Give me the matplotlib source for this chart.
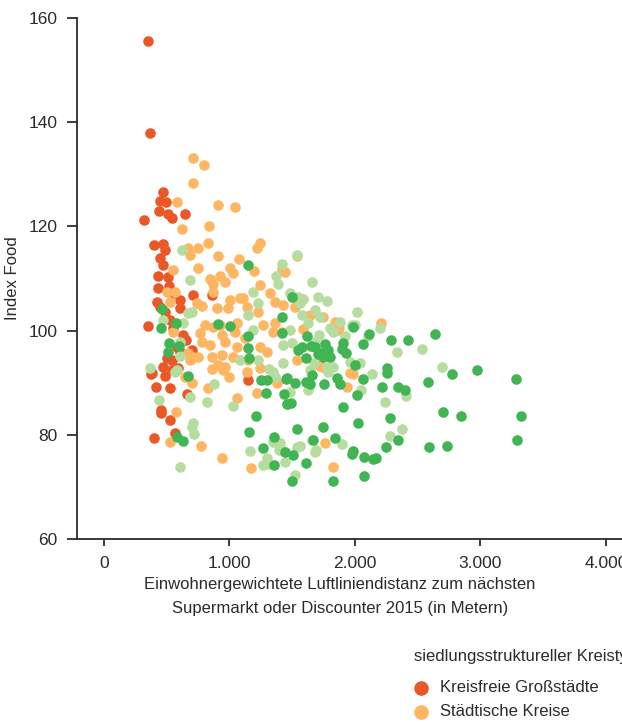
import matplotlib
matplotlib.use("Agg")
import matplotlib.pyplot as plt
from matplotlib.lines import Line2D

plt.rcParams["font.family"] = ["Liberation Sans", "DejaVu Sans"]

# Einwohnergewichtete Luftliniendistanz (m) / Index Food, by Kreistyp
gross_dist = [351, 367, 319, 470, 446, 494, 438, 510, 542, 646, 399, 470, 486, 446, 470, 430,
              510, 518, 550, 430, 709, 422, 446, 486, 606, 606, 351, 526, 550, 630, 654, 582,
              606, 542, 502, 701, 470, 383, 542, 590, 375, 486, 414, 526, 662, 454, 454, 526,
              566, 399, 1148, 861]
gross_index = [155.6, 137.9, 121.2, 126.6, 124.9, 124.7, 123.0, 122.4, 121.6, 122.4, 116.4, 116.6,
               115.5, 113.9, 112.6, 110.5, 110.3, 108.6, 107.2, 108.2, 106.8, 105.5, 104.5, 103.6,
               105.9, 104.3, 100.9, 102.0, 100.5, 99.2, 98.2, 96.8, 95.9, 94.4, 94.7, 96.3, 93.0,
               91.8, 92.4, 92.8, 91.6, 91.3, 89.2, 89.0, 87.8, 84.8, 84.2, 82.8, 80.3, 79.4,
               90.5, 106.8]

staedt_dist = [709, 797, 709, 582, 909, 1044, 622, 837, 669, 685, 749, 829, 909, 1076, 550, 749,
               925, 1004, 1028, 1243, 1219, 1196, 1419, 1538, 845, 869, 964, 502, 566, 526, 741,
               781, 869, 1004, 1084, 988, 901, 1140, 805, 869, 925, 1060, 1044, 940, 765, 781,
               845, 964, 1060, 550, 669, 709, 685, 749, 861, 940, 1028, 909, 964, 861, 996, 646,
               948, 701, 829, 1060, 574, 526, 773, 940, 1172, 1219, 1243, 1323, 1108, 1363, 1427,
               1522, 1522, 1227, 1642, 1267, 1363, 1347, 1586, 1419, 1865, 1865, 1124, 1243, 1299,
               1538, 1243, 1140, 1737, 1443, 1379, 1961, 1937, 1761, 1825, 2208, 1985, 1745, 1841,
               1873, 1634, 1793, 1722, 1148]
staedt_index = [133.1, 131.8, 128.3, 124.7, 124.1, 123.7, 119.5, 120.1, 115.8, 114.5, 115.8, 116.8,
                114.3, 113.7, 111.6, 112.0, 110.5, 112.0, 111.0, 116.8, 115.8, 111.4, 111.8, 114.3,
                109.9, 108.9, 109.3, 107.4, 107.4, 105.5, 105.3, 104.7, 107.4, 105.9, 106.2, 104.3,
                104.3, 104.5, 101.1, 100.7, 101.1, 101.4, 99.7, 99.1, 99.5, 97.8, 97.2, 97.8, 96.8,
                99.7, 95.7, 94.9, 94.4, 94.9, 94.9, 95.3, 94.9, 93.4, 93.0, 92.6, 91.1, 91.1, 92.4,
                89.9, 89.0, 87.0, 84.4, 78.6, 77.8, 75.5, 73.6, 88.0, 108.7, 107.2, 106.2, 105.5,
                104.9, 106.2, 104.5, 103.6, 103.0, 101.1, 101.4, 99.7, 100.3, 99.7, 101.4, 100.1,
                98.6, 96.8, 95.9, 94.4, 92.8, 92.0, 93.0, 111.2, 89.9, 91.8, 89.2, 78.4, 73.8,
                101.4, 91.6, 102.6, 101.6, 100.5, 102.8, 95.1, 93.2, 94.4]

verd_dist = [622, 685, 1188, 1419, 1538, 1371, 1387, 1658, 1482, 1706, 1586, 669, 701, 470, 630,
             606, 606, 367, 582, 1148, 1084, 566, 438, 685, 821, 877, 1028, 709, 701, 717, 606,
             1164, 1267, 1299, 1363, 1395, 1443, 1522, 1658, 1562, 1682, 1188, 1315, 1363, 1427,
             1626, 1227, 1562, 1546, 1682, 1722, 1777, 1578, 1626, 1482, 1801, 1825, 1714, 1682,
             2016, 1881, 1427, 1498, 1227, 1347, 1642, 1777, 1961, 2000, 1482, 1459, 1785, 1347,
             1403, 1690, 1897, 1427, 1538, 1307, 1921, 1977, 2200, 2534, 2335, 1674, 2040, 2136,
             1825, 2048, 2240, 2407, 2694, 2375, 2279, 2104]
verd_index = [115.5, 109.7, 107.4, 112.8, 114.5, 110.5, 108.9, 109.3, 107.2, 106.4, 106.0, 103.4,
              103.6, 102.0, 101.4, 97.8, 95.1, 92.8, 92.4, 103.0, 94.4, 92.0, 86.7, 87.2, 86.3,
              89.7, 85.5, 82.2, 81.5, 80.2, 73.8, 76.9, 74.2, 75.5, 78.8, 77.1, 74.8, 72.3, 79.0,
              77.8, 76.7, 100.1, 92.6, 91.1, 93.8, 88.6, 105.3, 105.3, 106.4, 104.0, 102.6, 105.7,
              103.0, 101.4, 100.1, 100.5, 99.7, 99.1, 97.8, 103.6, 101.6, 97.2, 97.6, 94.4, 92.0,
              92.4, 93.0, 94.0, 101.1, 88.2, 85.9, 92.0, 78.6, 78.4, 77.1, 78.2, 76.9, 77.7, 74.4,
              99.0, 101.1, 100.5, 96.5, 95.9, 93.8, 93.8, 91.7, 93.0, 88.6, 86.3, 87.4, 93.0, 81.1,
              79.8, 99.0]

duenn_dist = [462, 574, 454, 518, 510, 598, 669, 582, 630, 909, 1004, 1148, 1148, 1156, 1251, 1299,
              1291, 1211, 1156, 1267, 1355, 1355, 1451, 1522, 1435, 1459, 1490, 1419, 1419, 1498,
              1538, 1443, 1506, 1498, 1610, 1666, 1546, 1578, 1610, 1618, 1610, 1642, 1658, 1722,
              1148, 1650, 1761, 1785, 1745, 1801, 1905, 1985, 2000, 1897, 1929, 1459, 1857, 1753,
              1881, 1905, 2016, 2024, 1841, 1985, 1977, 1825, 1682, 1706, 2064, 2112, 2287, 2423,
              2638, 2064, 2216, 2255, 2255, 2343, 2399, 2582, 2773, 2973, 3284, 2279, 2702, 2845,
              3324, 1745, 2072, 2144, 2168, 2248, 2343, 2590, 2734, 3292, 2072]
duenn_index = [104.1, 101.4, 100.5, 97.6, 95.9, 97.0, 91.3, 79.6, 78.8, 101.2, 100.9, 98.9, 96.6,
               94.7, 90.5, 90.5, 88.0, 83.6, 80.5, 77.5, 79.6, 74.2, 90.7, 89.9, 87.8, 85.9, 86.1,
               102.6, 99.5, 106.4, 81.1, 76.7, 76.1, 71.1, 74.6, 79.0, 96.3, 96.8, 94.7, 98.9,
               90.1, 89.7, 91.5, 95.7, 112.6, 97.0, 97.4, 96.3, 94.9, 94.9, 97.6, 100.7, 93.4,
               96.5, 95.7, 90.9, 90.9, 89.7, 89.7, 85.3, 87.6, 82.2, 79.4, 76.9, 76.3, 71.1, 96.8,
               95.5, 97.4, 99.3, 98.2, 98.2, 99.3, 90.7, 89.2, 92.8, 91.8, 89.2, 88.6, 90.1, 91.7,
               92.4, 90.7, 83.2, 84.4, 83.6, 83.6, 81.5, 75.7, 75.3, 75.5, 77.7, 79.0, 77.7, 77.8,
               79.0, 72.1]

labels = ["Kreisfreie Großstädte", "Städtische Kreise",
          "Ländliche Kreise mit Verdichtungsansätzen", "Dünn besiedelte ländliche Kreise"]
colors = ["#E95826", "#FEB662", "#B7DCA0", "#41B553"]
xticks = [0, 1000, 2000, 3000, 4000]
yticks = [60, 80, 100, 120, 140, 160]

TXT = "#2b2b2b"
W, H = 622, 722
fig = plt.figure(figsize=(W / 100, H / 100), dpi=100)
ax = fig.add_axes([77 / W, 1 - 539 / H, (660 - 77) / W, (539 - 18) / H])

series = [(staedt_dist, staedt_index, 1), (gross_dist, gross_index, 0),
          (verd_dist, verd_index, 2), (duenn_dist, duenn_index, 3)]
for xs, ys, k in series:
    ax.scatter(xs, ys, s=58, color=colors[k], linewidths=0, zorder=2 + k * 0.1)

ax.set_xlim(-215, (660 - 104) * 7.97)
ax.set_ylim(60, 160)
ax.set_xticks(xticks)
ax.set_xticklabels(["0", "1.000", "2.000", "3.000", "4.000"])
ax.set_yticks(yticks)
for s in ["top", "right"]:
    ax.spines[s].set_visible(False)
for s in ["left", "bottom"]:
    ax.spines[s].set_color(TXT)
    ax.spines[s].set_linewidth(1.3)
ax.tick_params(axis="y", length=7, width=1.3, color=TXT, labelcolor=TXT, labelsize=12.5, pad=7)
ax.tick_params(axis="x", length=5, width=1.3, color=TXT, labelcolor=TXT, labelsize=12.5, pad=7)
ax.set_ylabel("Index Food", fontsize=12, color=TXT, labelpad=6)

fig.text(340 / W, 1 - 585 / H, "Einwohnergewichtete Luftliniendistanz zum nächsten",
         ha="center", va="center", fontsize=12, color=TXT)
fig.text(340 / W, 1 - 608 / H, "Supermarkt oder Discounter 2015 (in Metern)",
         ha="center", va="center", fontsize=12, color=TXT)

# legend (partly outside the canvas, as in the source)
fig.text(414 / W, 1 - 657 / H, "siedlungsstruktureller Kreistyp",
         ha="left", va="center", fontsize=12, color=TXT)
for i, (lab, col) in enumerate(zip(labels, colors)):
    yy = 1 - (688 + 24 * i) / H
    fig.add_artist(Line2D([421 / W], [yy], marker="o", markersize=10.5, color=col,
                          markeredgewidth=0, linestyle="none", transform=fig.transFigure))
    fig.text(440 / W, yy, lab, ha="left", va="center", fontsize=12, color=TXT)

fig.savefig("out.png", dpi=100)
